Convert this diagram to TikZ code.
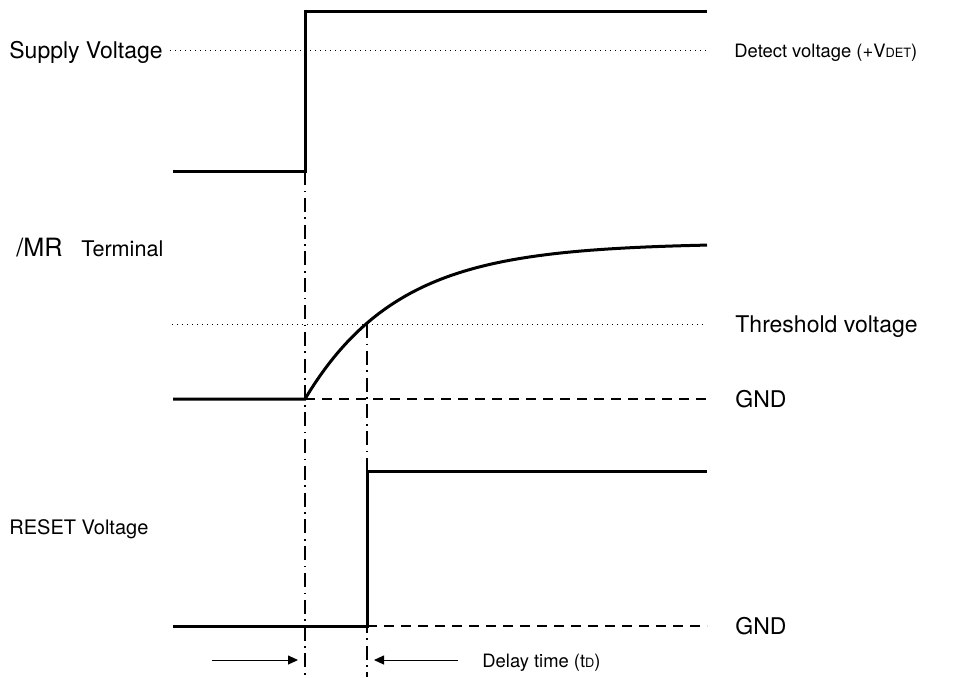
\documentclass[tikz,border=0pt]{standalone}
\usepackage{fontspec}
\setmainfont{TeX Gyre Heros}
\usetikzlibrary{arrows.meta,positioning,calc}

\begin{document}
\begin{tikzpicture}[
  x=0.5pt,y=-0.5pt,
  font=\fontsize{11.5}{13}\selectfont,
  wave/.style={line width=1.5pt,line join=miter},
  level/.style={line width=0.5pt,dash pattern=on 0.6pt off 1.9pt},
  gnd/.style={line width=0.6pt,dash pattern=on 5pt off 3.5pt},
  marker/.style={line width=0.7pt,dash pattern=on 7pt off 2.8pt on 0.8pt off 2.8pt},
  lbl/.style={anchor=base west,inner sep=0pt},
  small/.style={font=\fontsize{9.2}{11}\selectfont},
  dimarrow/.style={line width=0.5pt,-{Triangle[length=5pt,width=4.5pt]}}
]
\useasboundingbox (0,0) rectangle (968,677);

% supply voltage
\coordinate (s0) at (173,171);
\coordinate (s1) at (305,171);
\coordinate (s2) at (305,11);
\coordinate (s3) at (707,11);
\draw[wave] (s0) -- (s1) -- (s2) -- (s3);
\node[lbl] (vsup) at (9,58) {Supply Voltage};
\node[lbl,small] (vdet) at (734,57) {Detect voltage (+V{\fontsize{6.4}{8}\selectfont DET})};
\draw[level] ($(vsup.base east)+(7,-8)$) -- ($(vdet.base west)+(-28,-7)$);

% /MR terminal
\coordinate (m0) at (173,399);
\coordinate (m1) at (305,399);
\draw[wave] (m0) -- (m1)
  -- plot[domain=305:707,samples=80,smooth] (\x,{399-156*(1-exp(-(\x-305)/93))});
\node[lbl,font=\fontsize{12.6}{14}\selectfont] (mr) at (16,256) {/MR};
\node[lbl,font=\fontsize{10.8}{13}\selectfont] (mrterm) at ($(mr.base east)+(18,0)$) {Terminal};
\node[lbl] (vth) at (735,332) {Threshold voltage};
\node[lbl] (gnd1) at (735,407) {GND};
\draw[level] (172,324) -- ($(vth.base west)+(-29,-8)$);
\draw[gnd] (m1) -- ($(gnd1.base west)+(-28,-8)$);

% reset output
\coordinate (r0) at (173,626);
\coordinate (r1) at (367,626);
\coordinate (r2) at (367,471);
\coordinate (r3) at (707,471);
\draw[wave] (r0) -- (r1) -- (r2) -- (r3);
\node[lbl,font=\fontsize{10}{12}\selectfont] (vrst) at (9,534) {RESET Voltage};
\node[lbl] (gnd2) at (735,634) {GND};
\draw[gnd] (r1) -- ($(gnd2.base west)+(-28,-8)$);

% timing markers
\coordinate (t1) at (305,677);
\coordinate (t2) at (367,677);
\draw[marker] (s1) -- (t1);
\draw[marker] (367,324) -- (t2);

% delay time
\node[lbl,small] (delay) at (482,667) {Delay time (t{\fontsize{6.4}{8}\selectfont D})};
\coordinate (a0) at (212,660);
\draw[dimarrow] (a0) -- ($(t1|-a0)+(-7,0)$);
\draw[dimarrow] ($(delay.base west)+(-24,-7)$) -- ($(t2|-a0)+(7,0)$);
\end{tikzpicture}
\end{document}
